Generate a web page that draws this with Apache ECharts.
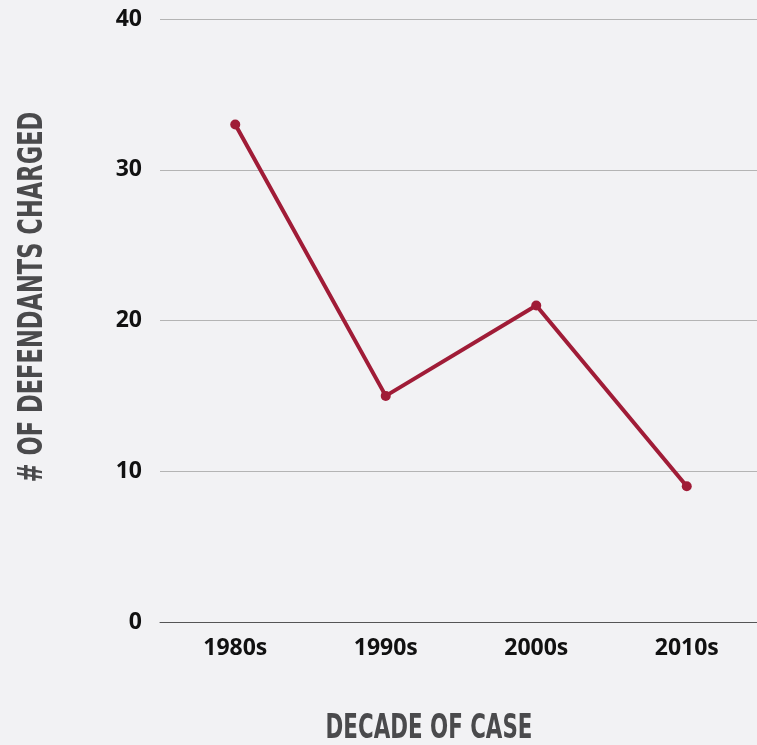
<!DOCTYPE html>
<html><head><meta charset="utf-8">
<script src="https://cdn.jsdelivr.net/npm/echarts@6/dist/echarts.min.js"></script>
<style>html,body{margin:0;padding:0;background:#f2f2f4;overflow:hidden;}#c{width:765px;height:745px;}</style>
</head><body><div id="c"></div>
<script>
const categories = ['1980s', '1990s', '2000s', '2010s'];
const defendants = [33, 15, 21, 9];
const yTicks = [0, 10, 20, 30, 40];
const xTitle = 'DECADE OF CASE';
const yTitle = '# OF DEFENDANTS CHARGED';

const chart = echarts.init(document.getElementById('c'));
const titleFont = {fontFamily: '"Liberation Sans Narrow", "DejaVu Sans Condensed", "Open Sans", sans-serif', fontWeight: 'bold', fontSize: 33, fill: '#4a4a4c'};
const labelFont = {color: '#111', fontFamily: '"Open Sans", sans-serif', fontWeight: 'bold', fontSize: 23};
chart.setOption({
  backgroundColor: '#f2f2f4',
  animation: false,
  grid: {left: 160, right: 3, top: 19, bottom: 123},
  xAxis: {
    type: 'category', data: categories, boundaryGap: true,
    axisLine: {lineStyle: {color: '#555', width: 1}},
    axisTick: {show: false},
    axisLabel: Object.assign({margin: 15}, labelFont)
  },
  yAxis: {
    type: 'value', min: yTicks[0], max: yTicks[yTicks.length - 1], interval: 10,
    axisLine: {show: false}, axisTick: {show: false},
    splitLine: {lineStyle: {color: '#b4b4b4', width: 1}},
    axisLabel: Object.assign({margin: 18}, labelFont)
  },
  graphic: [
    {type: 'text', x: 429, y: 729, scaleX: 0.72, style: Object.assign({text: xTitle, textAlign: 'center', textVerticalAlign: 'middle'}, titleFont)},
    {type: 'text', x: 33, y: 297, rotation: Math.PI / 2, scaleX: 0.76, style: Object.assign({text: yTitle, textAlign: 'center', textVerticalAlign: 'middle'}, titleFont)}
  ],
  series: [{
    type: 'line', data: defendants,
    lineStyle: {color: '#a01c37', width: 4},
    itemStyle: {color: '#a01c37'},
    symbol: 'circle', symbolSize: 10
  }]
});
</script></body></html>
